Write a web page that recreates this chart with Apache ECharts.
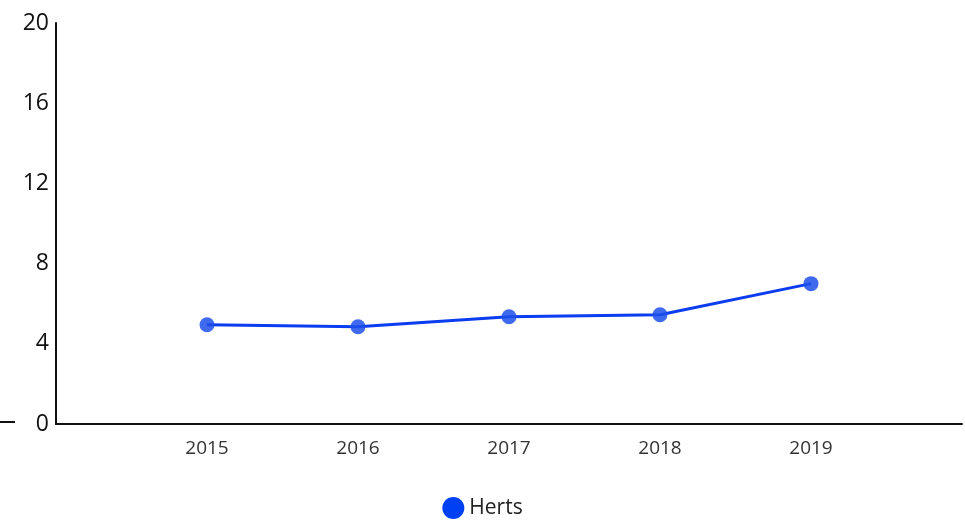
<!DOCTYPE html>
<html>
<head>
    <meta charset="UTF-8">
    <title>Herts</title>
    <script type="text/javascript" src="https://cdn.jsdelivr.net/npm/echarts@6/dist/echarts.min.js"></script>
    <style>
        html, body { margin: 0; padding: 0; background: #fff; }
        #main { width: 965px; height: 520px; }
    </style>
</head>
<body>
    <div id="main"></div>
    <script type="text/javascript">
        var years = [2015, 2016, 2017, 2018, 2019];
        var herts = [4.95, 4.85, 5.35, 5.45, 7.0];
        var yTicks = [0, 4, 8, 12, 16, 20];

        var myChart = echarts.init(document.getElementById('main'));

        var seriesData = [];
        for (var i = 0; i < years.length; i++) {
            seriesData.push([years[i], herts[i]]);
        }

        var option = {
            animation: false,
            legend: {
                top: 497,
                left: 'center',
                padding: 0,
                icon: 'circle',
                itemWidth: 22,
                itemHeight: 22,
                itemGap: 6,
                textStyle: { color: '#222', fontSize: 21, fontFamily: 'Open Sans' },
                data: [{ name: 'Herts', itemStyle: { color: '#0040f5' } }]
            },
            grid: { left: 56, right: 3, top: 23, bottom: 96 },
            xAxis: {
                type: 'value',
                min: years[0] - 1,
                max: years[years.length - 1] + 1,
                interval: 1,
                splitLine: { show: false },
                axisTick: { show: false },
                axisLine: { lineStyle: { color: '#111', width: 2 } },
                axisLabel: {
                    color: '#333',
                    fontSize: 19,
                    fontFamily: 'Open Sans',
                    margin: 15,
                    formatter: function (v) {
                        return years.indexOf(v) >= 0 ? String(v) : '';
                    }
                }
            },
            yAxis: {
                type: 'value',
                min: yTicks[0],
                max: yTicks[yTicks.length - 1],
                interval: 4,
                splitLine: { show: false },
                axisTick: { show: false },
                axisLine: { show: true, lineStyle: { color: '#111', width: 2 } },
                axisLabel: { color: '#111', fontSize: 23, fontFamily: 'Open Sans', margin: 7 }
            },
            graphic: [{
                type: 'line',
                shape: { x1: 0, y1: 422, x2: 15, y2: 422 },
                style: { stroke: '#111', lineWidth: 2 }
            }],
            series: [{
                name: 'Herts',
                type: 'line',
                symbol: 'circle',
                symbolSize: 15,
                lineStyle: { color: '#0a3cf0', width: 3 },
                itemStyle: { color: 'rgba(30,80,235,0.85)' },
                data: seriesData
            }]
        };
        myChart.setOption(option);
    </script>
</body>
</html>
